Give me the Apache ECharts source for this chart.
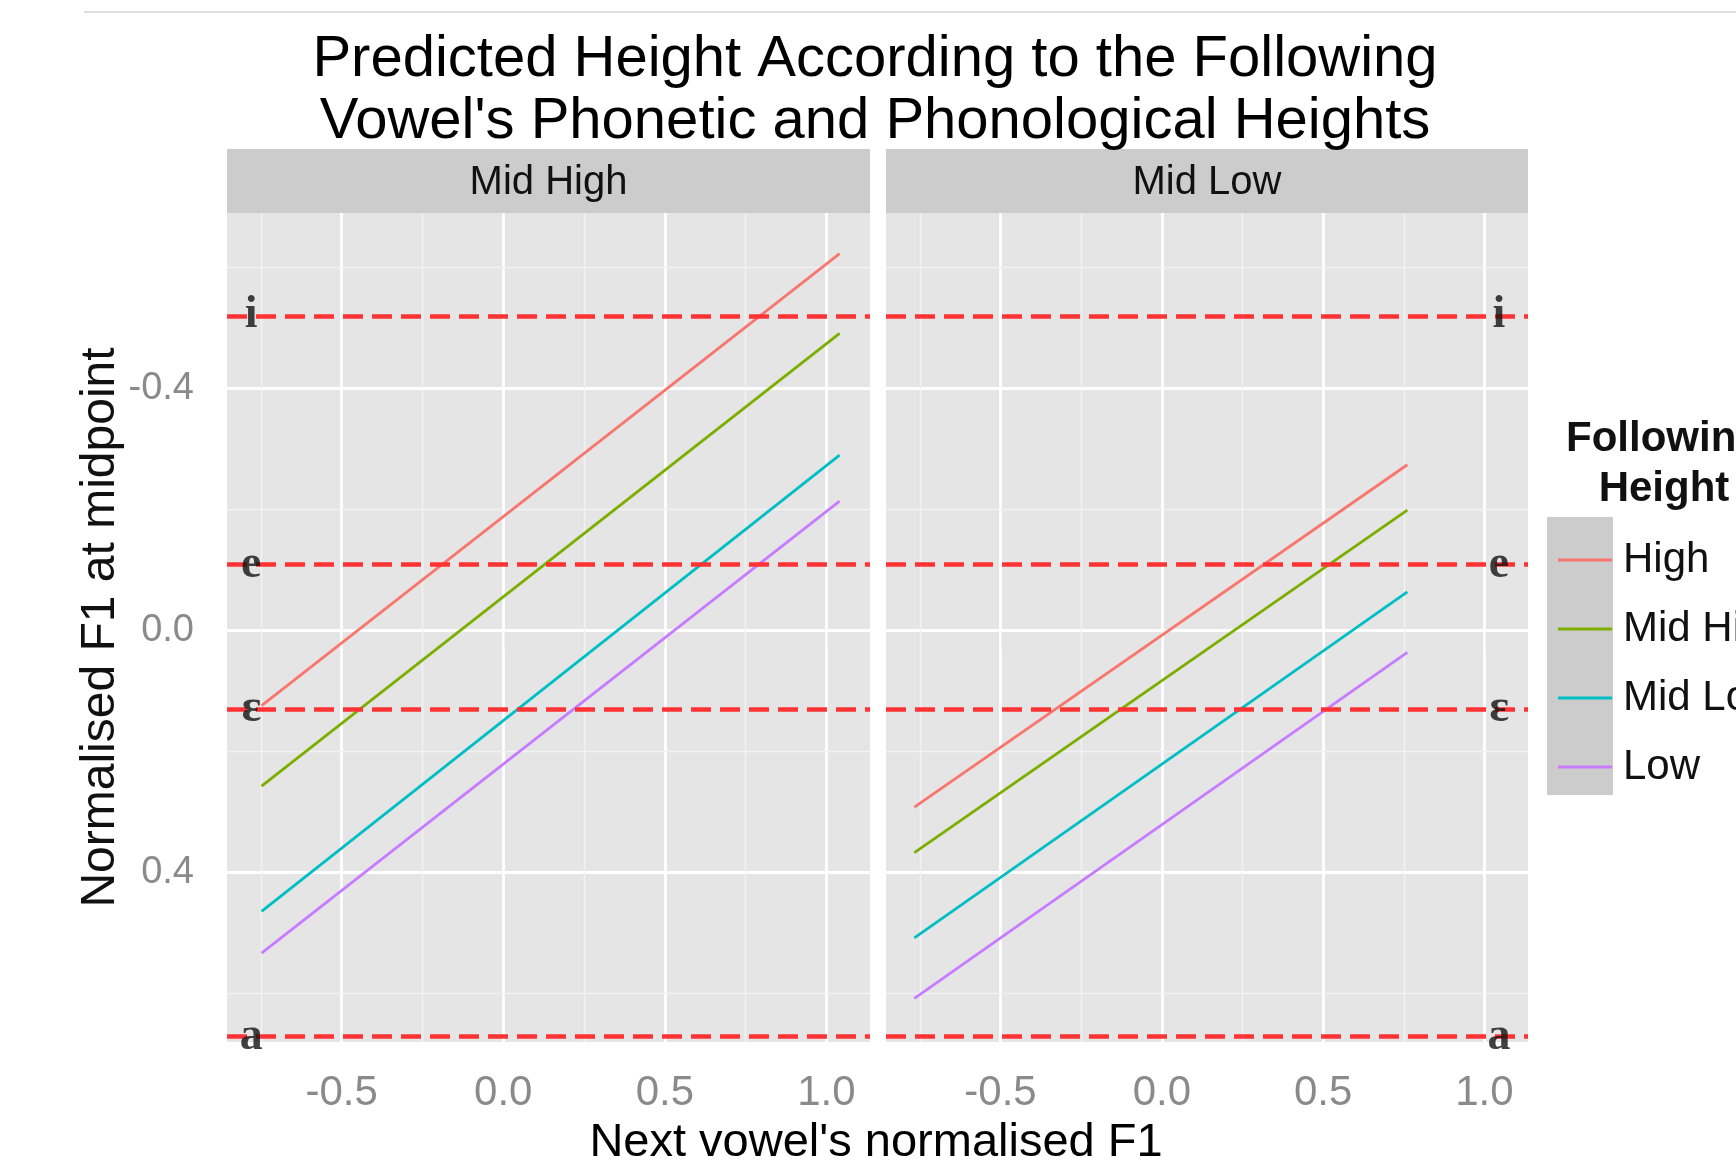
<!DOCTYPE html>
<html>
<head>
<meta charset="utf-8">
<title>Predicted Height</title>
<script src="https://cdn.jsdelivr.net/npm/echarts@6/dist/echarts.min.js"></script>
<style>
  html, body { margin: 0; padding: 0; background: #fff; }
  #chart { width: 1736px; height: 1173px; }
</style>
</head>
<body>
<div id="chart"></div>
<script>
// facets and groups
var panels = ['Mid High', 'Mid Low'];
var heights = ['High', 'Mid High', 'Mid Low', 'Low'];
var colors = ['#F8766D', '#7CAE00', '#00BFC4', '#C77CFF'];

// next vowel's normalised F1 at the two ends of each fitted line
var xMidHigh = [-0.748, 1.041];
var xMidLow = [-0.767, 0.761];

// predicted normalised F1 at those ends, one row per following height
var yMidHigh = [[0.124, -0.623], [0.257, -0.491], [0.464, -0.290], [0.533, -0.214]];
var yMidLow = [[0.292, -0.274], [0.367, -0.199], [0.508, -0.064], [0.608, 0.036]];

// reference vowels
var vowels = ['i', 'e', 'ɛ', 'a'];
var vowelF1 = [-0.521, -0.108, 0.130, 0.672];

// ticks
var xTicks = [-0.5, 0, 0.5, 1.0];
var yTicks = [-0.4, 0, 0.4];
var xMinor = [-0.75, -0.25, 0.25, 0.75];
var yMinor = [-0.6, -0.2, 0.2, 0.6];

var sans = "'Liberation Sans', Arial, sans-serif";
var serif = "'Liberation Serif', 'DejaVu Serif', serif";

var panelX = [xMidHigh, xMidLow];
var panelY = [yMidHigh, yMidLow];
var vowelLabelX = [-0.78, 1.045];

var grids = [
  { left: 227, top: 213, width: 643, height: 829 },
  { left: 886, top: 213, width: 642, height: 829 }
];

function fmt(v) {
  return Number(v).toFixed(1);
}

var xAxes = [];
var yAxes = [];
var series = [];

panels.forEach(function (p, pi) {
  xAxes.push({
    type: 'value',
    gridIndex: pi,
    min: -0.855,
    max: 1.135,
    axisLine: { show: false },
    splitLine: { show: false },
    axisTick: { show: true, customValues: xTicks, length: 18, lineStyle: { color: '#7f7f7f', width: 2 } },
    axisLabel: { customValues: xTicks, margin: 30, fontSize: 42, fontFamily: sans, color: '#8a8a8a', formatter: fmt }
  });
  yAxes.push({
    type: 'value',
    gridIndex: pi,
    inverse: true,
    min: -0.69,
    max: 0.68,
    axisLine: { show: false },
    splitLine: { show: false },
    axisTick: { show: pi === 0, customValues: yTicks, length: 12, lineStyle: { color: '#7f7f7f', width: 2 } },
    axisLabel: { show: pi === 0, customValues: yTicks, margin: 33, fontSize: 38, fontFamily: sans, color: '#8a8a8a', formatter: fmt },
    name: pi === 0 ? 'Normalised F1 at midpoint' : '',
    nameLocation: 'middle',
    nameRotate: 90,
    nameGap: 87,
    nameTextStyle: { fontSize: 48, fontFamily: sans, color: '#111' }
  });

  heights.forEach(function (h, hi) {
    var s = {
      name: h,
      type: 'line',
      xAxisIndex: pi,
      yAxisIndex: pi,
      showSymbol: false,
      silent: true,
      color: colors[hi],
      lineStyle: { width: 2.8, color: colors[hi] },
      z: 3,
      data: panelX[pi].map(function (x, k) { return [x, panelY[pi][hi][k]]; })
    };
    if (hi === 0) {
      // panel grid lines, kept under the data
      var gl = [];
      xTicks.forEach(function (v) { gl.push({ xAxis: v, lineStyle: { color: '#ffffff', width: 2.8 } }); });
      yTicks.forEach(function (v) { gl.push({ yAxis: v, lineStyle: { color: '#ffffff', width: 2.8 } }); });
      xMinor.forEach(function (v) { gl.push({ xAxis: v, lineStyle: { color: '#f2f2f2', width: 1.4 } }); });
      yMinor.forEach(function (v) { gl.push({ yAxis: v, lineStyle: { color: '#f2f2f2', width: 1.4 } }); });
      s.markLine = {
        silent: true,
        z: 1,
        symbol: 'none',
        label: { show: false },
        lineStyle: { type: 'solid' },
        data: gl
      };
    }
    series.push(s);
  });

  // vowel reference lines and their labels
  series.push({
    type: 'scatter',
    xAxisIndex: pi,
    yAxisIndex: pi,
    symbolSize: 0,
    silent: true,
    z: 6,
    label: {
      show: true,
      position: 'inside',
      formatter: '{b}',
      fontFamily: serif,
      fontWeight: 'bold',
      fontSize: 46,
      color: '#111'
    },
    data: vowels.map(function (v, i) { return { name: v, value: [vowelLabelX[pi], vowelF1[i]] }; }),
    markLine: {
      silent: true,
      z: 5,
      symbol: 'none',
      label: { show: false },
      lineStyle: { type: [20, 9], color: '#ff3333', width: 4.5 },
      data: vowelF1.map(function (v) { return { yAxis: v }; })
    }
  });
});

var graphics = [
  { type: 'line', shape: { x1: 84, y1: 12, x2: 1736, y2: 12 }, style: { stroke: '#dddddd', lineWidth: 2 } },
  { type: 'rect', shape: { x: 1547, y: 517, width: 66, height: 278 }, style: { fill: '#cccccc' }, z: -1 },
  {
    type: 'text', x: 1664, y: 414,
    style: { text: 'Following\nHeight', fontSize: 42, fontWeight: 'bold', fontFamily: sans, fill: '#111', align: 'center', lineHeight: 50 }
  },
  { type: 'rect', shape: { x: 0, y: 1157, width: 1736, height: 16 }, style: { fill: '#ffffff' }, z: 100 }
];
panels.forEach(function (p, pi) {
  var g = grids[pi];
  graphics.push({ type: 'rect', shape: { x: g.left, y: 149, width: g.width, height: 64 }, style: { fill: '#cccccc' } });
  graphics.push({
    type: 'text', x: g.left + g.width / 2, y: 183,
    style: { text: p, fontSize: 40, fontFamily: sans, fill: '#111', align: 'center', verticalAlign: 'middle' }
  });
});

var option = {
  backgroundColor: '#ffffff',
  animation: false,
  title: [
    {
      text: "Predicted Height According to the Following\nVowel's Phonetic and Phonological Heights",
      left: 875,
      textAlign: 'center',
      top: 29,
      padding: 0,
      textStyle: { fontSize: 58, fontWeight: 'normal', fontFamily: sans, color: '#000', lineHeight: 62 }
    },
    {
      text: "Next vowel's normalised F1",
      left: 876,
      textAlign: 'center',
      top: 1120,
      padding: 0,
      textStyle: { fontSize: 47, fontWeight: 'normal', fontFamily: sans, color: '#000' }
    }
  ],
  legend: {
    data: heights,
    orient: 'vertical',
    left: 1553,
    top: 532,
    icon: 'rect',
    itemWidth: 54,
    itemHeight: 3,
    itemGap: 23,
    selectedMode: false,
    textStyle: { fontSize: 42, lineHeight: 46, fontFamily: sans, color: '#111', padding: [0, 0, 0, 6] }
  },
  grid: grids.map(function (g) {
    return { left: g.left, top: g.top, width: g.width, height: g.height, show: true, backgroundColor: '#e5e5e5', borderWidth: 0 };
  }),
  xAxis: xAxes,
  yAxis: yAxes,
  series: series,
  graphic: graphics
};

var chart = echarts.init(document.getElementById('chart'));
chart.setOption(option);
</script>
</body>
</html>
